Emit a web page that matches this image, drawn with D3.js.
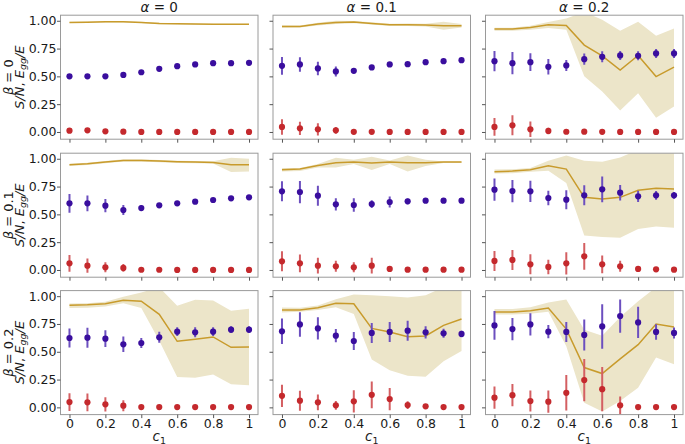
<!DOCTYPE html>
<html><head><meta charset="utf-8">
<script src="https://cdn.jsdelivr.net/npm/d3@7"></script>
<style>body{margin:0;background:#fff}svg{display:block}text{font-family:"DejaVu Sans",sans-serif;fill:#1a1a1a}</style>
</head><body><svg id="c" width="685" height="444"></svg>
<script>
const c1 = [0,0.1,0.2,0.3,0.4,0.5,0.6,0.7,0.8,0.9,1];
const alphas = ["0","0.1","0.2"];
const betas = ["0","0.1","0.2"];
const xTicks = [0,0.2,0.4,0.6,0.8,1];
const xTickLabels = ["0","0.2","0.4","0.6","0.8","1"];
const yTicks = [0,0.25,0.5,0.75,1];
const yTickLabels = ["0.00","0.25","0.50","0.75","1.00"];

// panels in row-major order: (beta0,alpha0), (beta0,alpha0.1), ... (beta0.2,alpha0.2)
const energyLine = [
 [0.985,0.987,0.99,0.99,0.985,0.975,0.972,0.97,0.968,0.968,0.968],
 [0.949,0.949,0.97,0.985,0.988,0.976,0.964,0.964,0.961,0.955,0.955],
 [0.925,0.925,0.94,0.964,0.958,0.781,0.685,0.556,0.688,0.498,0.583],
 [0.946,0.955,0.97,0.985,0.985,0.979,0.973,0.97,0.967,0.946,0.946],
 [0.901,0.907,0.94,0.964,0.97,0.961,0.97,0.964,0.964,0.97,0.97],
 [0.883,0.889,0.901,0.937,0.907,0.653,0.638,0.653,0.716,0.734,0.728],
 [0.919,0.922,0.931,0.964,0.955,0.836,0.594,0.612,0.633,0.54,0.543],
 [0.875,0.875,0.896,0.937,0.931,0.71,0.678,0.636,0.642,0.737,0.794],
 [0.857,0.857,0.869,0.893,0.704,0.358,0.304,0.436,0.564,0.749,0.722]
];
const energyLow = [
 [0.979,0.981,0.984,0.984,0.979,0.969,0.966,0.964,0.962,0.962,0.962],
 [0.938,0.94,0.958,0.97,0.978,0.966,0.954,0.952,0.948,0.92,0.94],
 [0.91,0.91,0.919,0.934,0.92,0.5,0.363,0.192,0.348,0.129,0.228],
 [0.936,0.945,0.96,0.975,0.975,0.969,0.963,0.96,0.957,0.88,0.886],
 [0.886,0.89,0.922,0.922,0.952,0.898,0.952,0.886,0.934,0.961,0.961],
 [0.868,0.87,0.883,0.892,0.781,0.311,0.296,0.29,0.368,0.392,0.38],
 [0.893,0.896,0.907,0.937,0.893,0.6,0.272,0.266,0.296,0.209,0.2],
 [0.854,0.86,0.875,0.901,0.839,0.43,0.334,0.284,0.275,0.415,0.507],
 [0.836,0.836,0.842,0.86,0.549,0.042,-0.036,0.057,0.176,0.448,0.388]
];
const energyHigh = [
 [0.991,0.993,0.996,0.996,0.991,0.981,0.978,0.976,0.974,0.974,0.974],
 [0.96,0.958,0.982,1.0,0.998,0.986,0.974,0.976,0.974,0.99,0.97],
 [0.937,0.937,0.955,0.988,1.02,1.08,1.009,0.91,0.99,0.865,0.93],
 [0.956,0.965,0.98,0.995,0.995,0.989,0.983,0.98,0.977,1.009,1.0],
 [0.916,0.918,0.952,1.009,0.99,1.018,0.985,1.03,0.99,0.976,0.976],
 [0.904,0.906,0.916,0.982,1.03,0.982,0.973,1.012,1.08,1.08,1.08],
 [0.934,0.937,0.949,0.994,1.033,1.08,0.913,0.967,0.961,0.869,0.887],
 [0.899,0.896,0.916,0.973,1.015,1.009,1.0,0.988,1.009,1.08,1.08],
 [0.884,0.884,0.901,0.943,0.97,0.698,0.645,0.812,0.955,1.08,1.08]
];
const snMean = [
 [0.50,0.50,0.50,0.513,0.537,0.568,0.592,0.607,0.619,0.619,0.622],
 [0.595,0.607,0.571,0.544,0.55,0.58,0.607,0.61,0.628,0.637,0.646],
 [0.637,0.619,0.628,0.586,0.598,0.655,0.676,0.688,0.685,0.706,0.706],
 [0.599,0.599,0.578,0.539,0.557,0.581,0.599,0.614,0.629,0.644,0.653],
 [0.707,0.701,0.668,0.59,0.584,0.593,0.611,0.617,0.623,0.623,0.623],
 [0.722,0.71,0.707,0.647,0.632,0.671,0.725,0.695,0.662,0.671,0.671],
 [0.624,0.627,0.618,0.567,0.579,0.63,0.681,0.675,0.681,0.699,0.699],
 [0.684,0.746,0.71,0.645,0.597,0.669,0.678,0.69,0.675,0.666,0.66],
 [0.737,0.704,0.746,0.681,0.678,0.651,0.728,0.821,0.764,0.678,0.669]
];
const snErr = [
 [0.006,0.006,0.006,0.006,0.006,0.006,0.006,0.006,0.006,0.006,0.006],
 [0.08,0.066,0.06,0.045,0.02,0.02,0.02,0.015,0.01,0.01,0.015],
 [0.09,0.1,0.08,0.07,0.05,0.05,0.05,0.04,0.04,0.04,0.04],
 [0.085,0.07,0.06,0.045,0.025,0.015,0.01,0.01,0.01,0.02,0.02],
 [0.09,0.1,0.09,0.055,0.06,0.035,0.05,0.025,0.01,0.008,0.008],
 [0.1,0.1,0.095,0.065,0.085,0.09,0.115,0.07,0.05,0.04,0.03],
 [0.085,0.09,0.075,0.07,0.045,0.05,0.04,0.045,0.04,0.03,0.03],
 [0.115,0.11,0.1,0.06,0.08,0.09,0.09,0.09,0.055,0.04,0.03],
 [0.13,0.1,0.1,0.06,0.09,0.14,0.2,0.15,0.14,0.07,0.05]
];
const ggMean = [
 [0.012,0.015,0.006,0.003,0,0,0,0,0,0,0],
 [0.045,0.033,0.024,0.015,0.001,0.001,0,0,0,0,0],
 [0.045,0.06,0.024,0.009,0.002,0.003,0.001,0,0,0,0],
 [0.06,0.039,0.024,0.018,0.002,0.002,0,0,0,0,0],
 [0.078,0.06,0.039,0.033,0.024,0.039,0.009,0.003,0.003,0.003,0.003],
 [0.081,0.09,0.051,0.027,0.06,0.123,0.051,0.033,0.009,0.006,0.003],
 [0.048,0.045,0.027,0.015,0.003,0.003,0.003,0.003,0.003,0.003,0.003],
 [0.104,0.06,0.045,0.018,0.054,0.113,0.075,0.021,0.009,0.003,0.003],
 [0.087,0.11,0.057,0.051,0.131,0.245,0.164,0.018,0.003,0.003,0.003]
];
const ggErr = [
 [0.003,0.003,0.003,0.002,0,0,0,0,0,0,0],
 [0.07,0.06,0.055,0.03,0.005,0,0,0,0,0,0],
 [0.08,0.09,0.07,0.03,0.005,0.005,0,0,0,0,0],
 [0.075,0.065,0.045,0.035,0.005,0,0,0,0,0,0],
 [0.09,0.08,0.07,0.05,0.045,0.07,0.01,0,0,0,0],
 [0.09,0.09,0.09,0.065,0.1,0.12,0.08,0.05,0.01,0.005,0],
 [0.08,0.08,0.065,0.05,0.005,0,0,0,0,0,0],
 [0.1,0.09,0.07,0.04,0.1,0.12,0.1,0.035,0.01,0,0],
 [0.1,0.1,0.095,0.1,0.16,0.19,0.2,0.08,0,0,0]
];

const svg = d3.select("#c");
const colLeft = [60.5, 273, 485.5];
const panelW = 197.5;
const rowTop = [15.2, 153.2, 290.6];
const panelH = 124;
const yDomain = [-0.065, 1.05];

const C = {
  frame:"#9a9a9a", tick:"#555", band:"#ece5c9", line:"#c89b2c",
  blue:"#3a0e9e", blueBar:"#6c4fbf", red:"#c4292d", redBar:"#d45f62"
};

for (let r=0;r<3;r++){
  for (let c=0;c<3;c++){
    const k = r*3+c;
    const x = d3.scaleLinear().domain([-0.05,1.05]).range([colLeft[c], colLeft[c]+panelW]);
    const y = d3.scaleLinear().domain(yDomain).range([rowTop[r]+panelH, rowTop[r]]);
    const g = svg.append("g");
    const clipId = "clip"+k;
    svg.append("clipPath").attr("id",clipId).append("rect")
      .attr("x",colLeft[c]).attr("y",rowTop[r]).attr("width",panelW).attr("height",panelH);
    const pg = g.append("g").attr("clip-path",`url(#${clipId})`);

    const area = d3.area().x((d,i)=>x(c1[i])).y0((d,i)=>y(energyLow[k][i])).y1((d,i)=>y(energyHigh[k][i]));
    pg.append("path").datum(c1).attr("d",area).attr("fill",C.band);
    const line = d3.line().x((d,i)=>x(c1[i])).y(d=>y(d));
    pg.append("path").datum(energyLine[k]).attr("d",line).attr("fill","none")
      .attr("stroke",C.line).attr("stroke-width",1.5);

    const drawSeries = (mean, err, barCol, dotCol) => {
      pg.selectAll(null).data(mean).enter().append("line")
        .attr("x1",(d,i)=>x(c1[i])).attr("x2",(d,i)=>x(c1[i]))
        .attr("y1",(d,i)=>y(d-err[k][i])).attr("y2",(d,i)=>y(d+err[k][i]))
        .attr("stroke",barCol).attr("stroke-width",2);
      pg.selectAll(null).data(mean).enter().append("circle")
        .attr("cx",(d,i)=>x(c1[i])).attr("cy",d=>y(d)).attr("r",3.1).attr("fill",dotCol);
    };
    drawSeries(snMean[k], snErr, C.blueBar, C.blue);
    drawSeries(ggMean[k], ggErr, C.redBar, C.red);

    g.append("rect").attr("x",colLeft[c]).attr("y",rowTop[r]).attr("width",panelW).attr("height",panelH)
      .attr("fill","none").attr("stroke",C.frame).attr("stroke-width",1);

    const yAx = d3.axisLeft(y).tickValues(yTicks).tickSize(3.5).tickPadding(0.5)
      .tickFormat((d,i)=> c===0 ? yTickLabels[i] : "");
    const ya = g.append("g").attr("transform",`translate(${colLeft[c]},0)`).call(yAx);
    ya.select(".domain").remove();
    ya.selectAll(".tick line").attr("stroke",C.tick);
    ya.selectAll(".tick text").attr("font-size",12.5).attr("fill","#1a1a1a").attr("font-family","DejaVu Sans");

    const xAx = d3.axisBottom(x).tickValues(xTicks).tickSize(3.5).tickPadding(1.5)
      .tickFormat((d,i)=> r===2 ? xTickLabels[i] : "");
    const xa = g.append("g").attr("transform",`translate(0,${rowTop[r]+panelH})`).call(xAx);
    xa.select(".domain").remove();
    xa.selectAll(".tick line").attr("stroke",C.tick);
    xa.selectAll(".tick text").attr("font-size",12.5).attr("fill","#1a1a1a").attr("font-family","DejaVu Sans");

    const cx = colLeft[c]+panelW/2;
    if (r===0){
      const t = svg.append("text").attr("x",cx).attr("y",12).attr("text-anchor","middle").attr("font-size",13.5);
      t.append("tspan").attr("font-style","italic").text("α");
      t.append("tspan").text(" = "+alphas[c]);
    }
    if (r===2){
      const t = svg.append("text").attr("x",cx).attr("y",441).attr("text-anchor","middle").attr("font-size",13.5);
      t.append("tspan").attr("font-style","italic").text("c");
      t.append("tspan").attr("font-size",9.5).attr("dy",2.5).text("1");
    }
    if (c===0){
      const cy = rowTop[r]+panelH/2;
      const l1 = svg.append("text").attr("transform",`translate(13,${cy}) rotate(-90)`)
        .attr("text-anchor","middle").attr("font-size",13);
      l1.append("tspan").attr("font-style","italic").text("β");
      l1.append("tspan").text(" = "+betas[r]);
      const l2 = svg.append("text").attr("transform",`translate(23.5,${cy}) rotate(-90)`)
        .attr("text-anchor","middle").attr("font-size",13);
      l2.append("tspan").attr("font-style","italic").text("S/N");
      l2.append("tspan").text(", ");
      l2.append("tspan").attr("font-style","italic").text("E");
      l2.append("tspan").attr("font-style","italic").attr("font-size",9.5).attr("dy",2.5).text("gg");
      l2.append("tspan").attr("font-style","italic").attr("dy",-2.5).text("/E");
    }
  }
}
</script></body></html>
